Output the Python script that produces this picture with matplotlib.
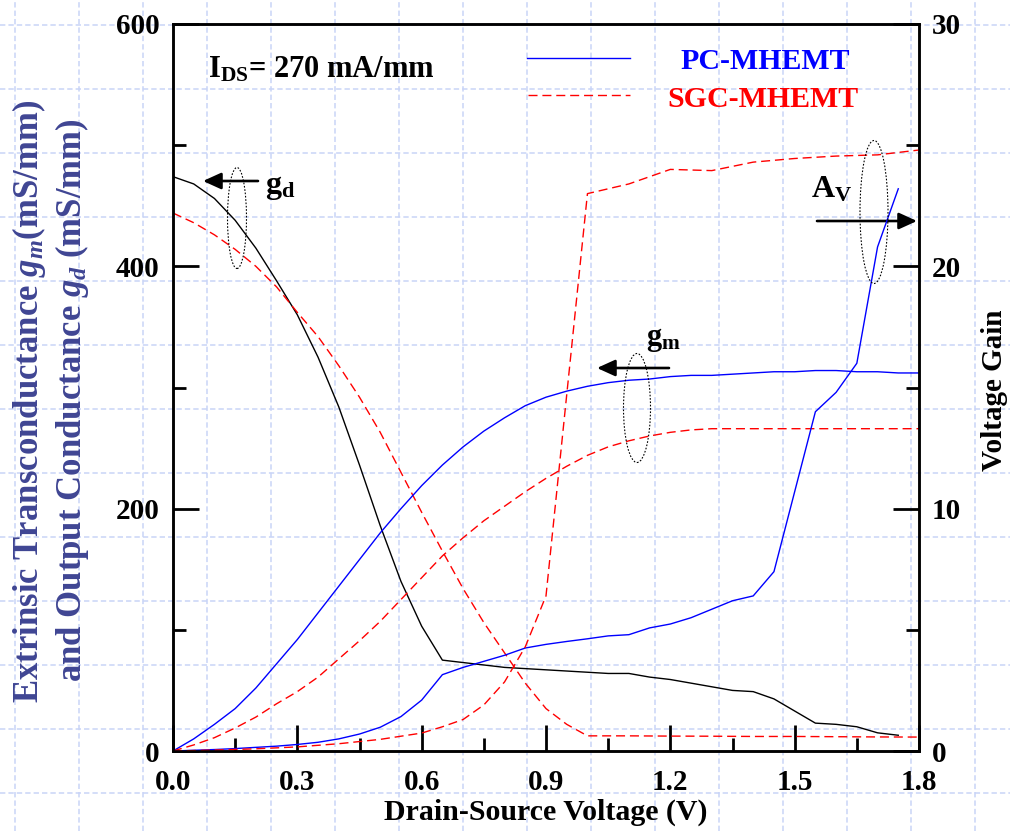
import matplotlib
matplotlib.use('Agg')
import matplotlib.pyplot as plt
from matplotlib.lines import Line2D
from matplotlib.patches import Ellipse
from matplotlib.ticker import MultipleLocator, FormatStrFormatter
from matplotlib.transforms import IdentityTransform

plt.rcParams['font.family'] = ['Liberation Serif', 'DejaVu Serif']
plt.rcParams['font.weight'] = 'bold'
plt.rcParams['mathtext.fontset'] = 'custom'
plt.rcParams['mathtext.rm'] = 'Liberation Serif:bold'
plt.rcParams['mathtext.it'] = 'Liberation Serif:italic:bold'
plt.rcParams['mathtext.bf'] = 'Liberation Serif:bold'

# ---------------- data ----------------
vds_gd_pc = [0.00, 0.05, 0.10, 0.15, 0.20, 0.25, 0.30, 0.35, 0.40, 0.45, 0.50, 0.55,
             0.60, 0.65, 0.70, 0.75, 0.80, 0.85, 0.90, 0.95, 1.00, 1.05, 1.10, 1.15,
             1.20, 1.25, 1.30, 1.35, 1.40, 1.45, 1.50, 1.55, 1.60, 1.65, 1.70, 1.75]
gd_pc = [474, 468, 456, 438, 415, 388, 360, 325, 284, 236, 186, 140,
         103, 75, 73, 71, 69, 68, 67, 66, 65, 64, 64, 61,
         59, 56, 53, 50, 49, 43, 33, 23, 22, 20, 15, 13]

vds_gd_sgc = [0.00, 0.05, 0.10, 0.15, 0.20, 0.25, 0.30, 0.35, 0.40, 0.45, 0.50, 0.55,
              0.60, 0.65, 0.70, 0.75, 0.80, 0.85, 0.90, 0.95, 1.00, 1.10, 1.20, 1.30,
              1.40, 1.50, 1.60, 1.70, 1.80]
gd_sgc = [444, 436, 426, 414, 400, 383, 362, 342, 318, 292, 263, 230,
          197, 165, 134, 106, 81, 56, 35, 22, 12.5, 12.5, 12.3, 12.2,
          12.0, 12.0, 11.8, 11.6, 11.5]

vds_gm = [0.00, 0.05, 0.10, 0.15, 0.20, 0.25, 0.30, 0.35, 0.40, 0.45, 0.50, 0.55,
          0.60, 0.65, 0.70, 0.75, 0.80, 0.85, 0.90, 0.95, 1.00, 1.05, 1.10, 1.15,
          1.20, 1.25, 1.30, 1.35, 1.40, 1.45, 1.50, 1.55, 1.60, 1.65, 1.70, 1.75, 1.80]
gm_pc = [0, 10, 22, 35, 52, 72, 92, 114, 136, 158, 180, 200,
         219, 236, 251, 264, 275, 285, 292, 297, 301, 304, 306, 307,
         309, 310, 310, 311, 312, 313, 313, 314, 314, 313, 313, 312, 312]
gm_sgc = [0, 5, 11, 19, 28, 39, 49, 61, 76, 91, 107, 125,
          143, 161, 176, 190, 202, 214, 225, 235, 244, 251, 256, 260,
          263, 265, 266, 266, 266, 266, 266, 266, 266, 266, 266, 266, 266]

vds_av_pc = [0.00, 0.05, 0.10, 0.15, 0.20, 0.25, 0.30, 0.35, 0.40, 0.45, 0.50, 0.55,
             0.60, 0.65, 0.70, 0.75, 0.80, 0.85, 0.90, 0.95, 1.00, 1.05, 1.10, 1.15,
             1.20, 1.25, 1.30, 1.35, 1.40, 1.45, 1.55, 1.60, 1.65, 1.70, 1.75]
av_pc = [0, 0.03, 0.06, 0.10, 0.15, 0.20, 0.27, 0.36, 0.50, 0.70, 0.98, 1.42,
         2.10, 3.15, 3.45, 3.70, 3.95, 4.25, 4.40, 4.52, 4.63, 4.75, 4.80, 5.08,
         5.24, 5.50, 5.85, 6.20, 6.40, 7.40, 14.0, 14.8, 16.0, 20.8, 23.2]

vds_av_sgc = [0.0, 0.1, 0.2, 0.3, 0.4, 0.5, 0.6, 0.65, 0.7, 0.75, 0.8, 0.85, 0.9,
              1.0, 1.1, 1.2, 1.3, 1.4, 1.5, 1.6, 1.7, 1.8]
av_sgc = [0, 0.04, 0.09, 0.17, 0.30, 0.48, 0.74, 1.0, 1.3, 1.9, 2.85, 4.3, 6.4,
          23.0, 23.4, 24.0, 23.95, 24.3, 24.45, 24.55, 24.6, 24.8]

x_ticks_fmt = '%.1f'

# ---------------- figure ----------------
W, H = 1010, 831
fig = plt.figure(figsize=(W / 100, H / 100), dpi=100)
fig.patch.set_facecolor('white')


def fx(px):
    return px / W


def fy(py):
    return 1 - py / H


# slide-style background grid
grid_kw = dict(transform=fig.transFigure, color='#c9d4f7', lw=1.1,
               ls=(0, (3.5, 2)), zorder=-5)
for gx in range(15, W, 64):
    fig.add_artist(Line2D([fx(gx), fx(gx)], [0, 1], **grid_kw))
for gy in range(25, H, 64):
    fig.add_artist(Line2D([0, 1], [fy(gy), fy(gy)], **grid_kw))

ax = fig.add_axes([fx(173), fy(751), fx(919) - fx(173), fy(24) - fy(751)])
ax.patch.set_alpha(0)
ax2 = ax.twinx()
ax2.patch.set_alpha(0)

dash = (0, (6.5, 3.5))
ax.plot(vds_gd_pc, gd_pc, color='black', lw=1.0)
ax.plot(vds_gd_sgc, gd_sgc, color='red', lw=1.0, ls=dash)
ax.plot(vds_gm, gm_pc, color='blue', lw=1.0)
ax.plot(vds_gm, gm_sgc, color='red', lw=1.0, ls=dash)
ax2.plot(vds_av_pc, av_pc, color='blue', lw=1.0)
ax2.plot(vds_av_sgc, av_sgc, color='red', lw=1.0, ls=dash)

ax.set_xlim(0, 1.8)
ax.set_ylim(0, 600)
ax2.set_ylim(0, 30)

ax.xaxis.set_major_locator(MultipleLocator(0.3))
ax.xaxis.set_minor_locator(MultipleLocator(0.15))
ax.xaxis.set_major_formatter(FormatStrFormatter(x_ticks_fmt))
ax.yaxis.set_major_locator(MultipleLocator(200))
ax.yaxis.set_minor_locator(MultipleLocator(100))
ax2.yaxis.set_major_locator(MultipleLocator(10))
ax2.yaxis.set_minor_locator(MultipleLocator(5))

for a in (ax, ax2):
    for s in a.spines.values():
        s.set_linewidth(1.8)

ax.tick_params(axis='x', which='major', direction='in', length=18.5, width=2.0,
               labelsize=21, pad=13, top=False)
ax.tick_params(axis='x', which='minor', direction='in', length=9.5, width=2.0, top=False)
ax.tick_params(axis='y', which='major', direction='in', length=18.5, width=2.0,
               labelsize=21, pad=9.5, right=False)
ax.tick_params(axis='y', which='minor', direction='in', length=9.5, width=2.0, right=False)
ax2.tick_params(axis='y', which='major', direction='in', length=18.5, width=2.0,
                labelsize=21, pad=9)
ax2.tick_params(axis='y', which='minor', direction='in', length=9.5, width=2.0)

# axis labels
fig.text(fx(546), fy(812), 'Drain-Source Voltage (V)', ha='center', va='center',
         fontsize=21.5, fontweight='bold')
fig.text(fx(994), fy(390), 'Voltage Gain', ha='center', va='center', rotation=90,
         fontsize=21, fontweight='bold')
lab_col = '#3f4593'
fig.text(fx(29), fy(401), r'Extrinsic Transconductance $g_m$(mS/mm)', ha='center',
         va='center', rotation=90, fontsize=25, fontweight='bold', color=lab_col)
fig.text(fx(72), fy(400), r'and Output Conductance $g_d$ (mS/mm)', ha='center',
         va='center', rotation=90, fontsize=25, fontweight='bold', color=lab_col)

# condition text
fig.text(fx(208), fy(77), r'I$_{\mathrm{DS}}$= 270 mA/mm', ha='left', va='baseline',
         fontsize=22, fontweight='bold')

# legend (manual)
fig.add_artist(Line2D([fx(527), fx(630)], [fy(58), fy(58)], transform=fig.transFigure,
                      color='blue', lw=1.0))
fig.add_artist(Line2D([fx(528), fx(630)], [fy(95), fy(95)], transform=fig.transFigure,
                      color='red', lw=1.0, ls=dash))
fig.text(fx(765), fy(69), 'PC-MHEMT', ha='center', va='baseline', fontsize=21.5,
         fontweight='bold', color='blue')
fig.text(fx(763), fy(107), 'SGC-MHEMT', ha='center', va='baseline', fontsize=21.5,
         fontweight='bold', color='red')

# annotations: arrows, labels, dotted ellipses


def arrow(x0, x1, y):
    ax.annotate('', xy=(x1, H - y), xytext=(x0, H - y), xycoords='figure pixels',
                textcoords='figure pixels',
                arrowprops=dict(arrowstyle='-|>,head_length=1.1,head_width=0.5',
                                mutation_scale=10, lw=1.9, color='black',
                                shrinkA=0, shrinkB=0))


def ellipse(cx, cy, w, h):
    e = Ellipse((cx, H - cy), w, h, transform=IdentityTransform(), fill=False,
                ec='black', lw=0.8, ls=(0, (1.5, 1.5)), zorder=10)
    fig.add_artist(e)


arrow(258, 203, 181)
ellipse(237, 218, 19, 101)
fig.text(fx(265), fy(193), r'$\mathrm{g}_{\mathrm{d}}$', ha='left', va='baseline',
         fontsize=23)

arrow(669, 597, 368)
ellipse(637, 408, 27, 109)
fig.text(fx(646), fy(345), r'$\mathrm{g}_{\mathrm{m}}$', ha='left', va='baseline',
         fontsize=22)

arrow(817, 917, 221)
ellipse(874, 212, 28, 143)
fig.text(fx(811), fy(197), r'$\mathrm{A}_{\mathrm{V}}$', ha='left', va='baseline',
         fontsize=23)

fig.savefig('out.png', dpi=100)
